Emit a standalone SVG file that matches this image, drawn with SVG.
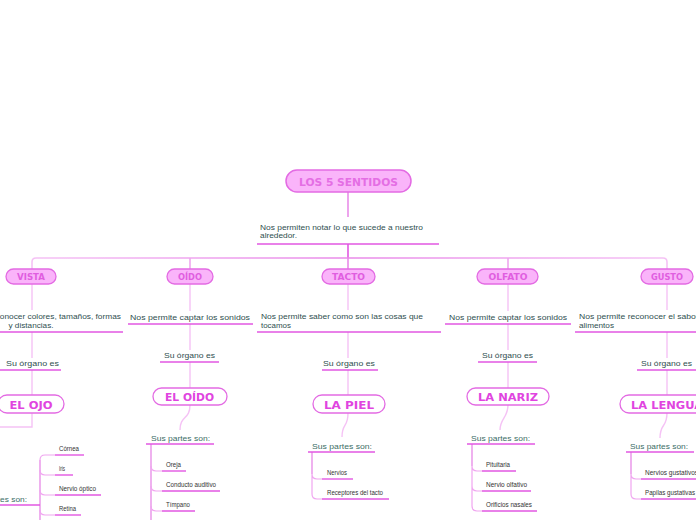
<svg xmlns="http://www.w3.org/2000/svg" width="696" height="520" viewBox="0 0 696 520">
<defs>
<linearGradient id="bar" gradientUnits="userSpaceOnUse" x1="32" y1="0" x2="667" y2="0">
<stop offset="0" stop-color="#f5c2f5"/>
<stop offset="0.5" stop-color="#e98ae9"/>
<stop offset="1" stop-color="#f5c2f5"/>
</linearGradient>
<style>
.org rect{fill:#ffffff;stroke:#e36be3;stroke-width:1.3}
.org text{font-family:"DejaVu Sans",sans-serif;font-weight:bold;font-size:11px;fill:#e044e0;text-anchor:middle}
.cat rect{fill:#fab4fa;stroke:#e36be3;stroke-width:1.3}
.cat text{font-family:"DejaVu Sans",sans-serif;font-weight:bold;font-size:8px;fill:#e05ee0;text-anchor:middle}
.desc{font-family:"Liberation Sans",sans-serif;font-size:7.6px;fill:#2f4f4f}
.parts{font-family:"Liberation Sans",sans-serif;font-size:7.6px;fill:#3b6e66}
.item{font-family:"Liberation Sans",sans-serif;font-size:6.4px;fill:#333333}
.ul{stroke:#e257e2;stroke-width:1.4;fill:none}
.lk{stroke:#f5c2f5;stroke-width:1.4;fill:none}
.br{stroke:#f0a6f0;stroke-width:1.2;fill:none}
.tr{stroke:#e57ee5;stroke-width:1.2;fill:none}
</style>
</defs>

<g id="connectors">
<path d="M348,192 V217" stroke="#e57ee5" stroke-width="1.4" fill="none"/>
<path d="M348,244 V258" stroke="#e257e2" stroke-width="1.6" fill="none"/>
<path d="M32,269 V262 Q32,258 36,258 H663 Q667,258 667,262 V269 M190,258 V269 M348,258 V269 M508,258 V269" stroke="url(#bar)" stroke-width="1.6" fill="none"/>
<path class="lk" d="M32,284 V310 M32,332 V358 M32,370 V395 M32,413 V427 H-4"/>
<path class="lk" d="M190,284 V311 M190,324 V350 M190,362 V388 M190,405 C190,420 180,415 180,430"/>
<path class="lk" d="M348,284 V310 M348,332 V358 M348,370 V395 M348,413 C348,428 342,423 342,437"/>
<path class="lk" d="M508,284 V311 M508,324 V350 M508,362 V388 M508,405 C508,418 500,418 500,430"/>
<path class="lk" d="M667,284 V310 M667,332 V358 M667,370 V395 M667,413 C667,428 660,423 660,438"/>
<path class="tr" d="M40,460 V520"/>
<path class="br" d="M40,460 Q40,455 45,455 H55 M40,470 Q40,475 45,475 H55 M40,490 Q40,495 45,495 H55 M40,510 Q40,515 45,515 H55"/>
<path class="tr" d="M151,444 V520"/>
<path class="br" d="M151,466 Q151,471 156,471 H162 M151,486 Q151,491 156,491 H162 M151,506 Q151,511 156,511 H162"/>
<path class="tr" d="M312,452 V474"/>
<path class="br" d="M312,474 Q312,479 317,479 H322 M312,474 V494 Q312,499 317,499 H322"/>
<path class="tr" d="M472,444 V466"/>
<path class="br" d="M472,466 Q472,471 477,471 H482 M472,466 V506 M472,486 Q472,491 477,491 H482 M472,506 Q472,511 477,511 H482"/>
<path class="tr" d="M631,452 V474"/>
<path class="br" d="M631,474 Q631,479 636,479 H641 M631,474 V494 Q631,499 636,499 H641"/>
</g>

<g id="root">
<rect x="286" y="170" width="125" height="22" rx="11" fill="#fab4fa" stroke="#e36be3" stroke-width="1.5"/>
<text x="348.5" y="185.5" font-family="DejaVu Sans, sans-serif" font-weight="bold" font-size="10.5" fill="#e46ee4" text-anchor="middle" textLength="99" lengthAdjust="spacingAndGlyphs">LOS 5 SENTIDOS</text>
</g>

<g id="root-desc">
<text class="desc" x="260" y="229.5" textLength="163" lengthAdjust="spacingAndGlyphs">Nos permiten notar lo que sucede a nuestro</text>
<text class="desc" x="260" y="237.5" textLength="37" lengthAdjust="spacingAndGlyphs">alrededor.</text>
<line class="ul" x1="257" y1="244" x2="439" y2="244"/>
</g>

<g id="vista" class="cat">
<rect x="6" y="269" width="50" height="15" rx="7.5"/>
<text x="31" y="280" textLength="28" lengthAdjust="spacingAndGlyphs">VISTA</text>
</g>
<g id="vista-desc">
<text class="desc" x="31" y="319" text-anchor="middle" textLength="180" lengthAdjust="spacingAndGlyphs">Nos permite reconocer colores, tamaños, formas</text>
<text class="desc" x="31" y="327.5" text-anchor="middle" textLength="45" lengthAdjust="spacingAndGlyphs">y distancias.</text>
<line class="ul" x1="-62" y1="332" x2="123" y2="332"/>
</g>
<g id="vista-organo">
<text class="desc" x="6" y="366" textLength="53" lengthAdjust="spacingAndGlyphs">Su órgano es</text>
<line class="ul" x1="0" y1="370" x2="61" y2="370"/>
</g>
<g id="el-ojo" class="org">
<rect x="-2" y="395" width="66" height="18" rx="9"/>
<text x="31" y="408.5" textLength="43" lengthAdjust="spacingAndGlyphs">EL OJO</text>
</g>
<g id="ojo-partes">
<text class="parts" x="-31" y="501.5" textLength="58" lengthAdjust="spacingAndGlyphs">Sus partes son:</text>
<line class="ul" x1="-35" y1="505" x2="40" y2="505"/>
</g>
<g id="cornea"><text class="item" x="59" y="450.5" textLength="20" lengthAdjust="spacingAndGlyphs">Córnea</text><line class="ul" x1="55" y1="455" x2="84" y2="455"/></g>
<g id="iris"><text class="item" x="59" y="470.5" textLength="6" lengthAdjust="spacingAndGlyphs">Iris</text><line class="ul" x1="55" y1="475" x2="73" y2="475"/></g>
<g id="nervio-optico"><text class="item" x="59" y="490.5" textLength="37" lengthAdjust="spacingAndGlyphs">Nervio óptico</text><line class="ul" x1="55" y1="495" x2="101" y2="495"/></g>
<g id="retina"><text class="item" x="59" y="510.5" textLength="17" lengthAdjust="spacingAndGlyphs">Retina</text><line class="ul" x1="55" y1="515" x2="81" y2="515"/></g>

<g id="oido" class="cat">
<rect x="167" y="269" width="46" height="15" rx="7.5"/>
<text x="190" y="280" textLength="24" lengthAdjust="spacingAndGlyphs">OÍDO</text>
</g>
<g id="oido-desc">
<text class="desc" x="190" y="319.5" text-anchor="middle" textLength="120" lengthAdjust="spacingAndGlyphs">Nos permite captar los sonidos</text>
<line class="ul" x1="128" y1="324" x2="253" y2="324"/>
</g>
<g id="oido-organo">
<text class="desc" x="164" y="358" textLength="51" lengthAdjust="spacingAndGlyphs">Su órgano es</text>
<line class="ul" x1="160" y1="362" x2="219" y2="362"/>
</g>
<g id="el-oido" class="org">
<rect x="153" y="388" width="74" height="17" rx="8.5"/>
<text x="189.5" y="401" textLength="49" lengthAdjust="spacingAndGlyphs">EL OÍDO</text>
</g>
<g id="oido-partes">
<text class="parts" x="151" y="440.5" textLength="59" lengthAdjust="spacingAndGlyphs">Sus partes son:</text>
<line class="ul" x1="146" y1="444" x2="214" y2="444"/>
</g>
<g id="oreja"><text class="item" x="166" y="466.5" textLength="15" lengthAdjust="spacingAndGlyphs">Oreja</text><line class="ul" x1="162" y1="471" x2="186" y2="471"/></g>
<g id="conducto"><text class="item" x="166" y="486.5" textLength="50" lengthAdjust="spacingAndGlyphs">Conducto auditivo</text><line class="ul" x1="162" y1="491" x2="220" y2="491"/></g>
<g id="timpano"><text class="item" x="166" y="506.5" textLength="24" lengthAdjust="spacingAndGlyphs">Tímpano</text><line class="ul" x1="162" y1="511" x2="195" y2="511"/></g>

<g id="tacto" class="cat">
<rect x="322" y="269" width="53" height="15" rx="7.5"/>
<text x="348.5" y="280" textLength="33" lengthAdjust="spacingAndGlyphs">TACTO</text>
</g>
<g id="tacto-desc">
<text class="desc" x="261" y="319" textLength="162" lengthAdjust="spacingAndGlyphs">Nos permite saber como son las cosas que</text>
<text class="desc" x="261" y="327.5" textLength="30" lengthAdjust="spacingAndGlyphs">tocamos</text>
<line class="ul" x1="257" y1="332" x2="441" y2="332"/>
</g>
<g id="tacto-organo">
<text class="desc" x="323" y="366" textLength="52" lengthAdjust="spacingAndGlyphs">Su órgano es</text>
<line class="ul" x1="322" y1="370" x2="378" y2="370"/>
</g>
<g id="la-piel" class="org">
<rect x="313" y="395" width="72" height="18" rx="9"/>
<text x="349" y="408.5" textLength="50" lengthAdjust="spacingAndGlyphs">LA PIEL</text>
</g>
<g id="tacto-partes">
<text class="parts" x="312" y="448.5" textLength="60" lengthAdjust="spacingAndGlyphs">Sus partes son:</text>
<line class="ul" x1="308" y1="452" x2="375" y2="452"/>
</g>
<g id="nervios"><text class="item" x="327" y="474.5" textLength="20" lengthAdjust="spacingAndGlyphs">Nervios</text><line class="ul" x1="322" y1="479" x2="353" y2="479"/></g>
<g id="receptores"><text class="item" x="327" y="494.5" textLength="56" lengthAdjust="spacingAndGlyphs">Receptores del tacto</text><line class="ul" x1="322" y1="499" x2="389" y2="499"/></g>

<g id="olfato" class="cat">
<rect x="477" y="269" width="61" height="15" rx="7.5"/>
<text x="508" y="280" textLength="39" lengthAdjust="spacingAndGlyphs">OLFATO</text>
</g>
<g id="olfato-desc">
<text class="desc" x="449" y="319.5" textLength="118" lengthAdjust="spacingAndGlyphs">Nos permite captar los sonidos</text>
<line class="ul" x1="445" y1="324" x2="571" y2="324"/>
</g>
<g id="olfato-organo">
<text class="desc" x="482" y="358" textLength="51" lengthAdjust="spacingAndGlyphs">Su órgano es</text>
<line class="ul" x1="478" y1="362" x2="537" y2="362"/>
</g>
<g id="la-nariz" class="org">
<rect x="467" y="388" width="82" height="17" rx="8.5"/>
<text x="508" y="401" textLength="60" lengthAdjust="spacingAndGlyphs">LA NARIZ</text>
</g>
<g id="olfato-partes">
<text class="parts" x="471" y="440.5" textLength="59" lengthAdjust="spacingAndGlyphs">Sus partes son:</text>
<line class="ul" x1="467" y1="444" x2="535" y2="444"/>
</g>
<g id="pituitaria"><text class="item" x="486" y="466.5" textLength="24" lengthAdjust="spacingAndGlyphs">Pituitaria</text><line class="ul" x1="482" y1="471" x2="516" y2="471"/></g>
<g id="nervio-olfativo"><text class="item" x="486" y="486.5" textLength="41" lengthAdjust="spacingAndGlyphs">Nervio olfativo</text><line class="ul" x1="482" y1="491" x2="531" y2="491"/></g>
<g id="orificios"><text class="item" x="486" y="506.5" textLength="46" lengthAdjust="spacingAndGlyphs">Orificios nasales</text><line class="ul" x1="482" y1="511" x2="537" y2="511"/></g>

<g id="gusto" class="cat">
<rect x="641" y="269" width="52" height="15" rx="7.5"/>
<text x="667" y="280" textLength="32" lengthAdjust="spacingAndGlyphs">GUSTO</text>
</g>
<g id="gusto-desc">
<text class="desc" x="579" y="319" textLength="145" lengthAdjust="spacingAndGlyphs">Nos permite reconocer el sabor de los</text>
<text class="desc" x="579" y="327.5" textLength="35" lengthAdjust="spacingAndGlyphs">alimentos</text>
<line class="ul" x1="575" y1="332" x2="760" y2="332"/>
</g>
<g id="gusto-organo">
<text class="desc" x="641" y="366" textLength="51" lengthAdjust="spacingAndGlyphs">Su órgano es</text>
<line class="ul" x1="637" y1="370" x2="697" y2="370"/>
</g>
<g id="la-lengua" class="org">
<rect x="620" y="395" width="94" height="18" rx="9"/>
<text x="667" y="408.5" textLength="72" lengthAdjust="spacingAndGlyphs">LA LENGUA</text>
</g>
<g id="gusto-partes">
<text class="parts" x="630" y="448.5" textLength="58" lengthAdjust="spacingAndGlyphs">Sus partes son:</text>
<line class="ul" x1="626" y1="452" x2="694" y2="452"/>
</g>
<g id="nervios-gustativos"><text class="item" x="645" y="474.5" textLength="53" lengthAdjust="spacingAndGlyphs">Nervios gustativos</text><line class="ul" x1="641" y1="479" x2="700" y2="479"/></g>
<g id="papilas"><text class="item" x="645" y="494.5" textLength="50" lengthAdjust="spacingAndGlyphs">Papilas gustativas</text><line class="ul" x1="641" y1="499" x2="700" y2="499"/></g>
</svg>
